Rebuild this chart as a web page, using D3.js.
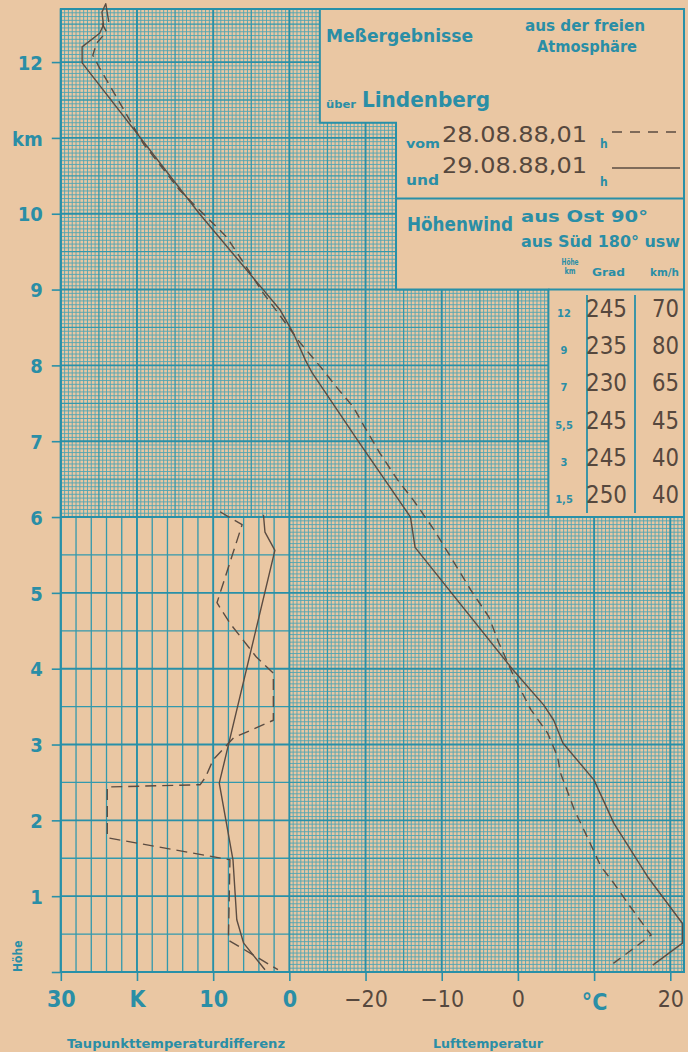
<!DOCTYPE html>
<html>
<head>
<meta charset="utf-8">
<script src="https://cdn.jsdelivr.net/npm/d3@7"></script>
<style>
  body { margin: 0; background: #eac7a3; }
  svg { display: block; }
  .teal { fill: #2a8ea6; font-family: "DejaVu Sans Condensed", "Liberation Sans Narrow", "Roboto", sans-serif; font-weight: bold; font-stretch: condensed; }
  .ink { fill: #56483e; font-family: "DejaVu Sans Condensed", "DejaVu Sans", sans-serif; font-stretch: condensed; }
</style>
</head>
<body>
<div class="container"></div>
<script>
// Lufttemperatur, 29.08.88 01h (solid): height km / temperature °C
const solidTempKm = [12.53, 12.77, 12.66, 12.49, 12.38, 12.2, 11.99, 10.0, 8.73, 8.43, 8.07, 7.9, 7.02, 6.0, 5.6, 3.98, 3.52, 3.32, 3.02, 2.53, 1.96, 1.26, 0.64, 0.38, 0.09];
const solidTemp   = [-53.7, -54.1, -54.6, -54.4, -54.9, -57.2, -57.2, -41.8, -31.2, -29.5, -27.9, -27.0, -21.1, -14.1, -13.5, -0.6, 3.4, 4.7, 5.9, 10.0, 12.6, 17.0, 21.6, 21.6, 17.7];

// Lufttemperatur, 28.08.88 01h (dashed)
const dashTempKm = [12.51, 12.40, 12.25, 12.09, 11.92, 11.54, 10.93, 10.31, 9.69, 8.95, 8.30, 7.98, 7.70, 7.45, 7.20, 6.84, 6.49, 6.22, 5.83, 5.47, 5.04, 4.68, 4.34, 3.89, 3.46, 3.15, 2.84, 2.62, 2.49, 2.14, 1.78, 1.39, 1.17, 0.91, 0.55, 0.49, 0.29, 0.09];
const dashTemp   = [-54.6, -54.0, -55.3, -55.8, -54.9, -52.7, -49.2, -44.4, -38.2, -33.4, -28.6, -25.9, -23.7, -21.6, -20.2, -18.1, -15.8, -13.7, -11.0, -8.8, -6.2, -3.8, -2.5, -0.5, 1.7, 3.9, 5.2, 5.6, 6.1, 7.4, 9.1, 10.9, 12.6, 14.4, 17.0, 17.5, 14.9, 12.2];

// Taupunkttemperaturdifferenz in K
const solidDewKm = [6.03, 5.80, 5.56, 2.49, 1.48, 0.69, 0.38, 0.03];
const solidDew   = [3.4, 3.2, 1.9, 9.2, 7.4, 6.9, 6.0, 3.2];
const dashDewKm = [6.07, 5.90, 4.87, 4.60, 4.15, 3.94, 3.32, 3.09, 2.80, 2.57, 2.47, 2.44, 1.77, 1.48, 0.42, 0.03];
const dashDew   = [9.1, 6.2, 9.5, 7.8, 4.3, 2.1, 2.1, 7.3, 10.0, 11.0, 11.7, 23.9, 23.9, 7.8, 8.0, 1.5];

// Höhenwind table
const windKm    = ['12', '9', '7', '5,5', '3', '1,5'];
const windGrad  = [245, 235, 230, 245, 245, 250];
const windSpeed = [70, 80, 65, 45, 40, 40];

// axis ticks
const yTicks = [0, 1, 2, 3, 4, 5, 6, 7, 8, 9, 10, 11, 12];
const yTickLabels = ['', '1', '2', '3', '4', '5', '6', '7', '8', '9', '10', 'km', '12'];
const xTicks = [-60, -50, -40, -30, -20, -10, 0, 10, 20];
const xTickLabels = ['30', 'K', '10', '0', '−20', '−10', '0', '°C', '20'];

const W = 688, H = 1052;
const paper = '#eac7a3', teal = '#2a8ea6', ink = '#56483e';

const svg = d3.select('.container').append('svg').attr('width', W).attr('height', H);
svg.append('rect').attr('width', W).attr('height', H).attr('fill', paper);

// one x scale for the whole sheet: left part is K (30..0), right part is °C (-30..22)
const y = d3.scaleLinear().domain([0, 12.7]).range([972, 9]);
const x = d3.scaleLinear().domain([-60, 21.8]).range([60.8, 684]);
const xK = d3.scaleLinear().domain([30, 0]).range([x(-60), x(-30)]);

// grid: fine mm paper everywhere except lower left block (coarse)
const levels = [d3.path(), d3.path(), d3.path()]; // fine, medium, major
d3.range(-60, 21.6, 0.5).forEach(v => {
  const k = Math.abs(Math.round(v * 2));
  const lvl = k % 20 === 0 ? 2 : (k % 10 === 0 ? 1 : 0);
  const h0 = v < -30 ? 6 : 0;
  levels[lvl].moveTo(x(v), y(h0));
  levels[lvl].lineTo(x(v), y(12.7));
});
d3.range(0, 12.7, 0.05).forEach(h => {
  const k = Math.round(h * 20);
  const lvl = k % 20 === 0 ? 2 : (k % 10 === 0 ? 1 : 0);
  const v0 = h < 5.99 ? -30 : -60;
  levels[lvl].moveTo(x(v0), y(h));
  levels[lvl].lineTo(x(21.8), y(h));
});
// coarse block
d3.range(0, 31, 2).forEach(v => {
  const p = v % 10 === 0 ? levels[2] : levels[1];
  p.moveTo(xK(v), y(0));
  p.lineTo(xK(v), y(6));
});
d3.range(0, 6, 0.5).forEach(h => {
  const p = h % 1 === 0 ? levels[2] : levels[1];
  p.moveTo(xK(30), y(h));
  p.lineTo(xK(0), y(h));
});

const g = svg.append('g');
g.append('path').attr('d', levels[0].toString()).attr('stroke', '#4fa5b3').attr('stroke-width', 0.9).attr('fill', 'none');
g.append('path').attr('d', levels[1].toString()).attr('stroke', '#3399ad').attr('stroke-width', 1.3).attr('fill', 'none');
g.append('path').attr('d', levels[2].toString()).attr('stroke', '#2890a8').attr('stroke-width', 1.9).attr('fill', 'none');
g.append('rect')
  .attr('x', x(-60)).attr('y', y(12.7))
  .attr('width', x(21.8) - x(-60)).attr('height', y(0) - y(12.7))
  .attr('fill', 'none').attr('stroke', '#2890a8').attr('stroke-width', 2);

// legend box (covers the grid)
const boxPts = [[-26, 12.7], [21.8, 12.7], [21.8, 6], [4, 6], [4, 9], [-16, 9], [-16, 11.2], [-26, 11.2]];
svg.append('polygon')
  .attr('points', boxPts.map(p => [x(p[0]), y(p[1])].join(',')).join(' '))
  .attr('fill', paper).attr('stroke', '#2890a8').attr('stroke-width', 2);
svg.append('line').attr('x1', x(-16)).attr('x2', x(21.8)).attr('y1', y(10.2)).attr('y2', y(10.2))
  .attr('stroke', '#2890a8').attr('stroke-width', 2);
svg.append('line').attr('x1', x(4)).attr('x2', x(21.8)).attr('y1', y(9)).attr('y2', y(9))
  .attr('stroke', '#2890a8').attr('stroke-width', 2);

// data lines
const line = d3.line().x(d => d[0]).y(d => d[1]);
const draw = (pts, dash) => svg.append('path')
  .attr('d', line(pts))
  .attr('fill', 'none').attr('stroke', '#5b4c42').attr('stroke-width', 1.4)
  .attr('stroke-linejoin', 'round')
  .attr('stroke-dasharray', dash);

draw(d3.zip(dashTemp, dashTempKm).map(d => [x(d[0]), y(d[1])]), '9,6');
draw(d3.zip(solidTemp, solidTempKm).map(d => [x(d[0]), y(d[1])]), null);
draw(d3.zip(dashDew, dashDewKm).map(d => [xK(d[0]), y(d[1])]), '11,6');
draw(d3.zip(solidDew, solidDewKm).map(d => [xK(d[0]), y(d[1])]), null);

// axes
const yAxis = svg.append('g').attr('transform', `translate(${x(-60)},0)`)
  .call(d3.axisLeft(y).tickValues(yTicks).tickFormat((d, i) => yTickLabels[i]).tickSize(9));
yAxis.select('.domain').remove();
yAxis.selectAll('line').attr('stroke', '#2890a8').attr('stroke-width', 1.6);
yAxis.selectAll('text').attr('class', 'teal').attr('x', -18).attr('dy', '0.36em')
  .style('font-size', '20px');

const xAxis = svg.append('g').attr('transform', `translate(0,${y(0)})`)
  .call(d3.axisBottom(x).tickValues(xTicks).tickFormat((d, i) => xTickLabels[i]).tickSize(9));
xAxis.select('.domain').remove();
xAxis.selectAll('line').attr('stroke', '#2890a8').attr('stroke-width', 1.6);
xAxis.selectAll('text')
  .attr('class', (d, i) => (d <= -30 || xTickLabels[i] === '°C') ? 'teal' : 'ink')
  .attr('y', (d, i) => xTickLabels[i] === '°C' ? 30 : 27).attr('dy', '0.36em')
  .style('font-size', '23px')
  .style('font-weight', (d, i) => (d <= -30 || xTickLabels[i] === '°C') ? 'bold' : 'normal');

// text helper
const txt = (px, py, s, cls, size, len, anchor) => {
  const t = svg.append('text').attr('x', px).attr('y', py).attr('class', cls)
    .style('font-size', size + 'px').attr('text-anchor', anchor || 'start').text(s);
  if (len) t.attr('textLength', len).attr('lengthAdjust', 'spacingAndGlyphs');
  return t;
};

svg.append('text').attr('class', 'teal').style('font-size', '12px')
  .attr('transform', 'translate(22,972) rotate(-90)').text('Höhe');
txt(67, 1048, 'Taupunkttemperaturdifferenz', 'teal', 13, 218);
txt(433, 1048, 'Lufttemperatur', 'teal', 13, 110);

// legend texts
txt(326, 42, 'Meßergebnisse', 'teal', 18, 147);
txt(525, 31, 'aus der freien', 'teal', 15, 120);
txt(537, 52, 'Atmosphäre', 'teal', 15, 100);
txt(326, 108, 'über', 'teal', 11, 30);
txt(362, 107, 'Lindenberg', 'teal', 21, 128);
txt(406, 148, 'vom', 'teal', 13, 34);
txt(442, 142, '28.08.88,01', 'ink', 22, 145);
txt(600, 148, 'h', 'teal', 12);
txt(406, 185, 'und', 'teal', 14, 33);
txt(442, 173, '29.08.88,01', 'ink', 22, 145);
txt(600, 186, 'h', 'teal', 12);
svg.append('line').attr('x1', 612).attr('x2', 680).attr('y1', 132).attr('y2', 132)
  .attr('stroke', '#5b4c42').attr('stroke-width', 1.6).attr('stroke-dasharray', '10,8');
svg.append('line').attr('x1', 612).attr('x2', 680).attr('y1', 168).attr('y2', 168)
  .attr('stroke', '#5b4c42').attr('stroke-width', 1.6);

txt(407, 231, 'Höhenwind', 'teal', 20, 106);
txt(521, 222, 'aus Ost  90°', 'teal', 15, 127);
txt(521, 247, 'aus Süd 180° usw', 'teal', 15, 159);
txt(570, 265, 'Höhe', 'teal', 8, 17, 'middle');
txt(570, 274, 'km', 'teal', 8, 11, 'middle');
txt(592, 276, 'Grad', 'teal', 11, 33);
txt(650, 276, 'km/h', 'teal', 10, 29);

// wind table
const row = d3.scaleLinear().domain([0, 5]).range([317, 503]);
svg.selectAll('.vline').data([587, 635]).enter().append('line')
  .attr('x1', d => d).attr('x2', d => d).attr('y1', 295).attr('y2', 513)
  .attr('stroke', '#2890a8').attr('stroke-width', 1.8);
windKm.forEach((d, i) => txt(564, row(i), d, 'teal', 11, null, 'middle'));
windGrad.forEach((d, i) => txt(586, row(i), d, 'ink', 24, 41));
windSpeed.forEach((d, i) => txt(679, row(i), d, 'ink', 24, 27, 'end'));
</script>
</body>
</html>
